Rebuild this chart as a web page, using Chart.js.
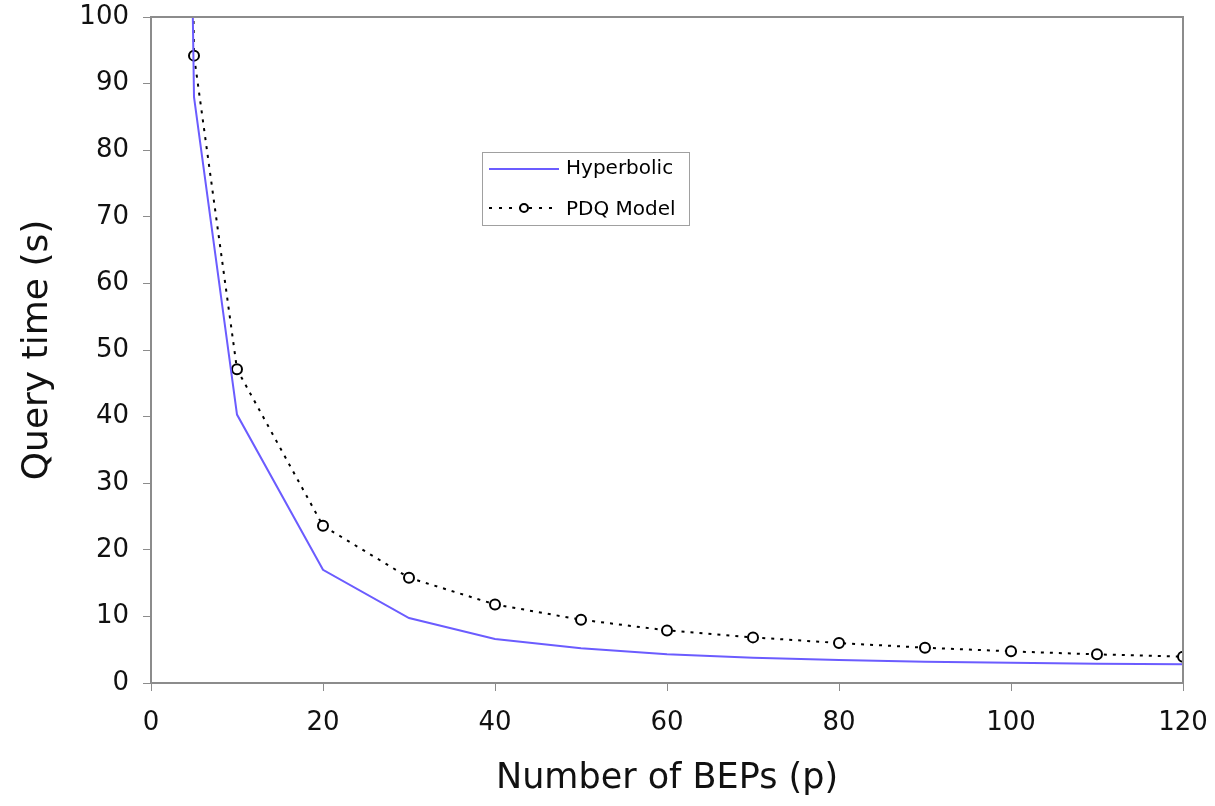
<!DOCTYPE html>
<html>
<head>
<meta charset="utf-8">
<script src="https://cdn.jsdelivr.net/npm/chart.js@4"></script>
<style>
  html, body { margin: 0; padding: 0; background: #fff; }
  #wrap { width: 1215px; height: 806px; }
</style>
</head>
<body>
<div id="wrap"><canvas id="chart" width="1215" height="806"></canvas></div>
<script>
// BEP counts and query times
const beps = [1, 5, 10, 20, 30, 40, 50, 60, 70, 80, 90, 100, 110, 120];
const hyperbolic = [440, 88, 40.3, 17, 9.75, 6.6, 5.2, 4.3, 3.8, 3.45, 3.2, 3.05, 2.9, 2.8];
const pdqModel = [471, 94.2, 47.1, 23.6, 15.8, 11.8, 9.5, 7.9, 6.85, 6.0, 5.3, 4.75, 4.3, 3.95];
const xTicks = [0, 20, 40, 60, 80, 100, 120];
const yTicks = [0, 10, 20, 30, 40, 50, 60, 70, 80, 90, 100];

const FONT = "'DejaVu Sans', sans-serif";
const AXIS = "#8c8c8c";

function pts(ys) {
  return beps.map((x, i) => ({ x: x, y: ys[i] }));
}

// frame on top/right plus the little legend box inside the plot
const framePlugin = {
  id: "frame",
  afterDatasetsDraw(chart) {
    const { ctx, chartArea: a } = chart;
    ctx.save();
    ctx.strokeStyle = AXIS;
    ctx.lineWidth = 2;
    ctx.beginPath();
    ctx.moveTo(a.left, a.top);
    ctx.lineTo(a.right, a.top);
    ctx.lineTo(a.right, a.bottom);
    ctx.stroke();

    // legend
    ctx.fillStyle = "#fff";
    ctx.fillRect(482, 152, 207, 73);
    ctx.strokeStyle = "#a0a0a0";
    ctx.lineWidth = 1;
    ctx.strokeRect(482.5, 152.5, 207, 73);

    ctx.strokeStyle = "#6b5cff";
    ctx.lineWidth = 2;
    ctx.beginPath();
    ctx.moveTo(489, 169);
    ctx.lineTo(559, 169);
    ctx.stroke();

    ctx.strokeStyle = "#000";
    ctx.setLineDash([3, 7]);
    ctx.beginPath();
    ctx.moveTo(489, 208);
    ctx.lineTo(559, 208);
    ctx.stroke();
    ctx.setLineDash([]);
    ctx.fillStyle = "#fff";
    ctx.beginPath();
    ctx.arc(524, 208, 4, 0, Math.PI * 2);
    ctx.fill();
    ctx.stroke();

    ctx.fillStyle = "#000";
    ctx.font = "20px " + FONT;
    ctx.textBaseline = "middle";
    ctx.fillText("Hyperbolic", 566, 169);
    ctx.fillText("PDQ Model", 566, 210);
    ctx.restore();
  }
};

new Chart(document.getElementById("chart"), {
  type: "line",
  data: {
    datasets: [
      {
        label: "Hyperbolic",
        data: pts(hyperbolic),
        borderColor: "#6b5cff",
        borderWidth: 2,
        pointRadius: 0,
        tension: 0
      },
      {
        label: "PDQ Model",
        data: pts(pdqModel),
        borderColor: "#000",
        borderWidth: 2,
        borderDash: [3, 6],
        pointRadius: 5,
        pointBorderWidth: 2,
        pointBackgroundColor: "#fff",
        pointBorderColor: "#000",
        tension: 0
      }
    ]
  },
  options: {
    responsive: false,
    animation: false,
    layout: { padding: { top: 17, right: 32, left: 0, bottom: 0 } },
    plugins: { legend: { display: false }, tooltip: { enabled: false } },
    scales: {
      x: {
        type: "linear",
        min: 0,
        max: 120,
        afterBuildTicks: (s) => { s.ticks = xTicks.map(v => ({ value: v })); },
        afterFit: (s) => { s.height = 123; s.paddingLeft = 0; s.paddingRight = 0; },
        grid: { drawOnChartArea: false, drawTicks: true, tickLength: 8, color: AXIS, lineWidth: 1 },
        border: { color: AXIS, width: 2 },
        ticks: { color: "#111", font: { family: FONT, size: 26 }, padding: 17, maxRotation: 0 },
        title: { display: true, text: "Number of BEPs (p)", color: "#111", font: { family: FONT, size: 35 }, padding: { top: 14, bottom: 6 } }
      },
      y: {
        min: 0,
        max: 100,
        afterBuildTicks: (s) => { s.ticks = yTicks.map(v => ({ value: v })); },
        afterFit: (s) => { s.width = 151; s.paddingTop = 0; s.paddingBottom = 0; },
        grid: { drawOnChartArea: false, drawTicks: true, tickLength: 8, color: AXIS, lineWidth: 1 },
        border: { color: AXIS, width: 2 },
        ticks: { color: "#111", font: { family: FONT, size: 26 }, padding: 14 },
        title: { display: true, text: "Query time (s)", color: "#111", font: { family: FONT, size: 36 }, padding: { top: 16, bottom: 10 } }
      }
    }
  },
  plugins: [framePlugin]
});
</script>
</body>
</html>
